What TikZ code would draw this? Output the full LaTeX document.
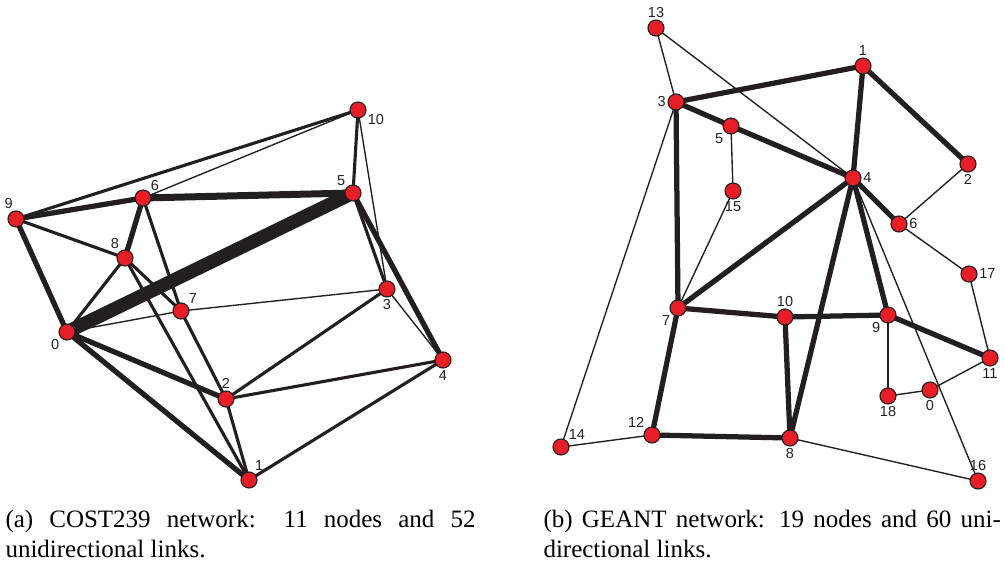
\documentclass[tikz,border=0pt]{standalone}
\usepackage{fontspec}
\setmainfont{Liberation Serif}
\newfontfamily\numfont{Liberation Sans}
\usetikzlibrary{backgrounds}
\definecolor{nodered}{RGB}{232,30,38}
\definecolor{linkblack}{RGB}{35,31,32}
\tikzstyle{router} = [circle, draw=linkblack, fill=nodered, line width=0.45pt, minimum size=6.4pt, inner sep=0pt, label distance=1.6pt]
\tikzstyle{every label} = [font=\numfont\fontsize{5.8}{6}\selectfont, inner sep=0.5pt, text=linkblack]
\tikzstyle{thinlink} = [draw=linkblack, line width=0.55pt]
\tikzstyle{medlink} = [draw=linkblack, line width=1.25pt]
\tikzstyle{thicklink} = [draw=linkblack, line width=2.1pt]
\tikzstyle{heavylink} = [draw=linkblack, line width=2.8pt]
\tikzstyle{trunklink} = [draw=linkblack, line width=5.4pt]
\tikzstyle{caption} = [text width=188pt, align=justify, inner sep=0pt, anchor=north west, font=\fontsize{10}{12}\selectfont]

\begin{document}
\begin{tikzpicture}[x=0.4pt, y=-0.4pt]
    \useasboundingbox (0,0) rectangle (1005,565);

    % COST239
    \node[router, label=-20:10](a10) at (358,110) {};
    \node[router, label=above left:5](a5) at (353,193) {};
    \node[router, label=100:9](a9) at (16,219) {};
    \node[router, label=above right:6](a6) at (143,198) {};
    \node[router, label=120:8](a8) at (125,258) {};
    \node[router, label=above right:7](a7) at (181,311) {};
    \node[router, label=below:3](a3) at (387,289) {};
    \node[router, label=below left:0](a0) at (67,332) {};
    \node[router, label=below:4](a4) at (443,360) {};
    \node[router, label=above:2](a2) at (226,399) {};
    \node[router, label=60:1](a1) at (249,480) {};

    % GEANT
    \node[router, label=above:13](b13) at (656,28) {};
    \node[router, label=above:1](b1) at (863,66) {};
    \node[router, label=left:3](b3) at (676,102) {};
    \node[router, label=below left:5](b5) at (731,126) {};
    \node[router, label=below:2](b2) at (968,164) {};
    \node[router, label=right:4](b4) at (853,178) {};
    \node[router, label=below:15](b15) at (733,191) {};
    \node[router, label=right:6](b6) at (899,224) {};
    \node[router, label=right:17](b17) at (969,274) {};
    \node[router, label=below left:7](b7) at (678,308) {};
    \node[router, label=above:10](b10) at (785,317) {};
    \node[router, label=below left:9](b9) at (888,315) {};
    \node[router, label=below:11](b11) at (990,358) {};
    \node[router, label=below:0](b0) at (930,390) {};
    \node[router, label=below:18](b18) at (888,396) {};
    \node[router, label=above left:12](b12) at (652,435) {};
    \node[router, label=above right:14](b14) at (561,447) {};
    \node[router, label=below:8](b8) at (790,438) {};
    \node[router, label=above:16](b16) at (978,481) {};

    \begin{pgfonlayer}{background}
    \path[medlink] (a10.center) -- (a9.center);
    \path[thinlink] (a10.center) -- (a6.center);
    \path[medlink] (a10.center) -- (a5.center);
    \path[thinlink] (a10.center) -- (a3.center);
    \path[thicklink] (a9.center) -- (a6.center);
    \path[medlink] (a9.center) -- (a8.center);
    \path[thicklink] (a9.center) -- (a0.center);
    \path[heavylink] (a6.center) -- (a5.center);
    \path[thicklink] (a6.center) -- (a8.center);
    \path[medlink] (a6.center) -- (a7.center);
    \path[medlink] (a7.center) -- (a2.center);
    \path[medlink] (a8.center) -- (a7.center);
    \path[medlink] (a8.center) -- (a1.center);
    \path[medlink] (a8.center) -- (a0.center);
    \path[trunklink] (a0.center) -- (a5.center);
    \path[thinlink] (a0.center) -- (a7.center);
    \path[thicklink] (a0.center) -- (a2.center);
    \path[thicklink] (a0.center) -- (a1.center);
    \path[thinlink] (a7.center) -- (a3.center);
    \path[medlink] (a5.center) -- (a3.center);
    \path[thicklink] (a5.center) -- (a4.center);
    \path[medlink] (a3.center) -- (a2.center);
    \path[thinlink] (a3.center) -- (a4.center);
    \path[medlink] (a2.center) -- (a4.center);
    \path[medlink] (a2.center) -- (a1.center);
    \path[medlink] (a4.center) -- (a1.center);

    \path[thinlink] (b13.center) -- (b3.center);
    \path[thinlink] (b13.center) -- (b4.center);
    \path[thicklink] (b3.center) -- (b1.center);
    \path[thicklink] (b3.center) -- (b5.center);
    \path[thicklink] (b3.center) -- (b7.center);
    \path[thinlink] (b3.center) -- (b14.center);
    \path[thicklink] (b5.center) -- (b4.center);
    \path[thinlink] (b5.center) -- (b15.center);
    \path[thinlink] (b15.center) -- (b7.center);
    \path[thicklink] (b1.center) -- (b4.center);
    \path[thicklink] (b1.center) -- (b2.center);
    \path[thinlink] (b2.center) -- (b6.center);
    \path[thicklink] (b4.center) -- (b6.center);
    \path[thicklink] (b4.center) -- (b7.center);
    \path[thicklink] (b4.center) -- (b8.center);
    \path[thicklink] (b4.center) -- (b9.center);
    \path[thinlink] (b4.center) -- (b16.center);
    \path[thinlink] (b6.center) -- (b17.center);
    \path[thinlink] (b17.center) -- (b11.center);
    \path[thicklink] (b7.center) -- (b10.center);
    \path[thicklink] (b7.center) -- (b12.center);
    \path[thicklink] (b10.center) -- (b9.center);
    \path[thicklink] (b10.center) -- (b8.center);
    \path[thicklink] (b9.center) -- (b11.center);
    \path[thinlink] (b9.center) -- (b18.center);
    \path[thinlink] (b18.center) -- (b0.center);
    \path[thinlink] (b0.center) -- (b11.center);
    \path[thinlink] (b12.center) -- (b14.center);
    \path[thicklink] (b12.center) -- (b8.center);
    \path[thinlink] (b8.center) -- (b16.center);
    \end{pgfonlayer}

    \node[caption](capa) at (5,510) {(a) COST239 network: 11 nodes and 52\linebreak unidirectional links.};
    \node[caption, text width=183pt](capb) at (543,510) {(b) GEANT network: 19 nodes and 60 uni-\linebreak directional links.};
\end{tikzpicture}
\end{document}
